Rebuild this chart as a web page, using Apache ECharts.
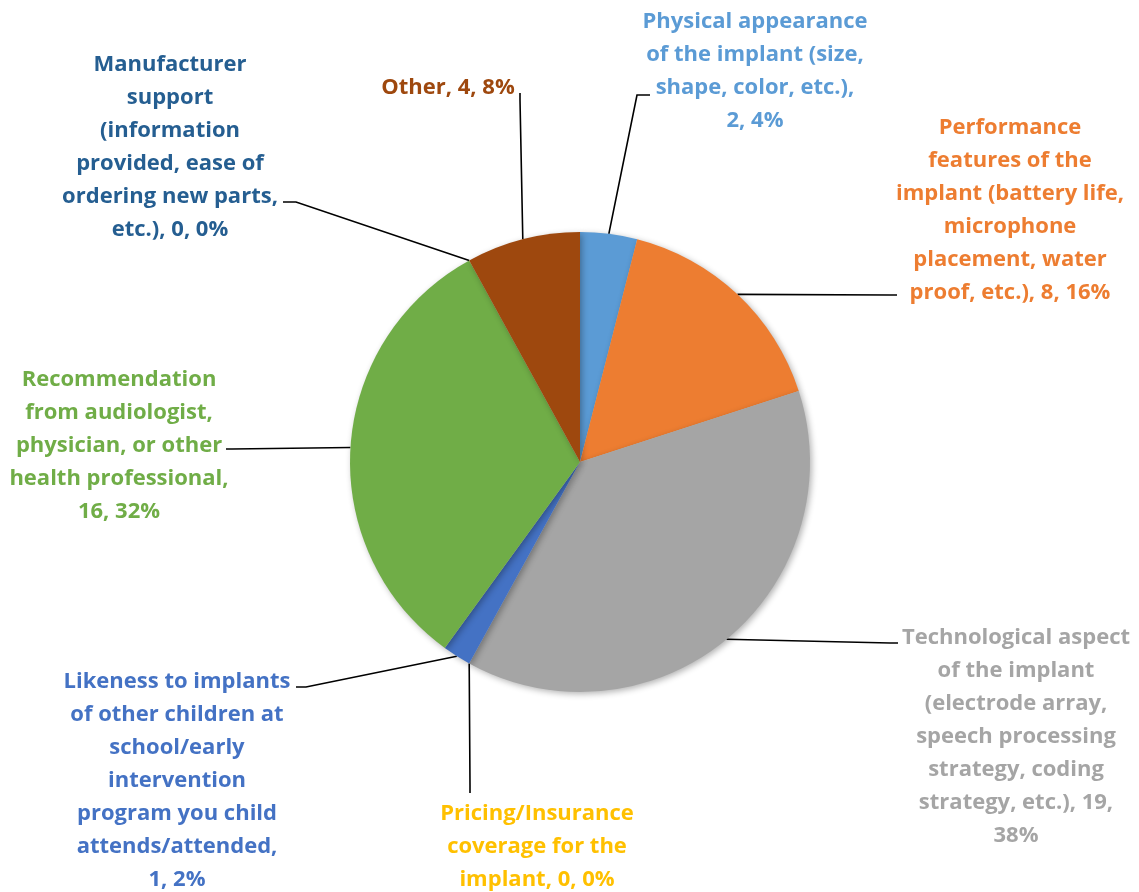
<!DOCTYPE html>
<html>
<head>
<meta charset="utf-8">
<script src="https://cdn.jsdelivr.net/npm/echarts@6/dist/echarts.min.js"></script>
<style>
  html, body { margin: 0; padding: 0; background: #fff; }
  #chart { width: 1139px; height: 892px; }
</style>
</head>
<body>
<div id="chart"></div>
<script>
// Factors in choosing the cochlear implant (count of responses), clockwise from 12 o'clock
const categories = [
  'Physical appearance of the implant (size, shape, color, etc.)',
  'Performance features of the implant (battery life, microphone placement, water proof, etc.)',
  'Technological aspect of the implant (electrode array, speech processing strategy, coding strategy, etc.)',
  'Pricing/Insurance coverage for the implant',
  'Likeness to implants of other children at school/early intervention program you child attends/attended',
  'Recommendation from audiologist, physician, or other health professional',
  'Manufacturer support (information provided, ease of ordering new parts, etc.)',
  'Other'
];
const values = [2, 8, 19, 0, 1, 16, 0, 4];

const colors = ['#5B9BD5', '#ED7D31', '#A5A5A5', '#FFC000', '#4472C4', '#70AD47', '#255E91', '#9E480E'];

// Words per label line
const lineWords = [
  [2, 4, 3, 2],
  [1, 3, 3, 1, 2, 4],
  [2, 3, 2, 2, 2, 3, 1],
  [1, 3, 3],
  [3, 4, 1, 1, 3, 1, 2],
  [1, 2, 3, 2, 2],
  [1, 1, 1, 3, 3, 3],
  [3]
];

// Label block placement (center x, top y) and leader line bend / end
const labelSpots = [
  { x: 755, y: 5,   bend: [637, 95],  end: [650, 95] },
  { x: 1010, y: 111, bend: [890, 295], end: [897, 295] },
  { x: 1016, y: 621, bend: [890, 643], end: [898, 643] },
  { x: 537, y: 797, bend: [470, 785], end: [470, 793] },
  { x: 177, y: 665, bend: [306, 687], end: [296, 687] },
  { x: 119, y: 363, bend: [232, 449], end: [226, 449] },
  { x: 170, y: 48,  bend: [296, 202], end: [283, 202] },
  { x: 448, y: 71,  bend: [520, 100], end: [520, 93] }
];

function wrapLabel(text, counts) {
  const words = text.split(' ');
  const lines = [];
  let i = 0;
  counts.forEach(function (n) {
    lines.push(words.slice(i, i + n).join(' '));
    i += n;
  });
  if (i < words.length) lines.push(words.slice(i).join(' '));
  return lines.join('\n');
}

const chart = echarts.init(document.getElementById('chart'), null, { renderer: 'canvas' });

chart.setOption({
  backgroundColor: '#ffffff',
  animation: false,
  color: colors,
  series: [{
    type: 'pie',
    center: [580, 462],
    radius: [0, 230],
    startAngle: 90,
    clockwise: true,
    avoidLabelOverlap: false,
    minShowLabelAngle: 0,
    itemStyle: {
      borderWidth: 0,
      shadowBlur: 6,
      shadowOffsetX: 2,
      shadowOffsetY: 2,
      shadowColor: 'rgba(0,0,0,0.3)'
    },
    label: {
      show: true,
      position: 'outside',
      fontFamily: '"Open Sans"',
      fontWeight: 'bold',
      fontSize: 22,
      lineHeight: 33,
      align: 'center',
      formatter: function (p) {
        const pct = Math.round(p.percent);
        return wrapLabel(p.name + ', ' + p.value + ', ' + pct + '%', lineWords[p.dataIndex]);
      }
    },
    labelLine: {
      show: true,
      smooth: false,
      lineStyle: { color: '#000000', width: 1.6 }
    },
    labelLayout: function (p) {
      const s = labelSpots[p.dataIndex];
      const anchor = p.labelLinePoints ? p.labelLinePoints[0] : s.bend;
      return {
        x: s.x,
        y: s.y,
        align: 'center',
        verticalAlign: 'top',
        labelLinePoints: [anchor, s.bend, s.end]
      };
    },
    emphasis: { disabled: true },
    data: categories.map(function (name, i) {
      return { name: name, value: values[i], label: { color: colors[i] } };
    })
  }]
});
</script>
</body>
</html>
